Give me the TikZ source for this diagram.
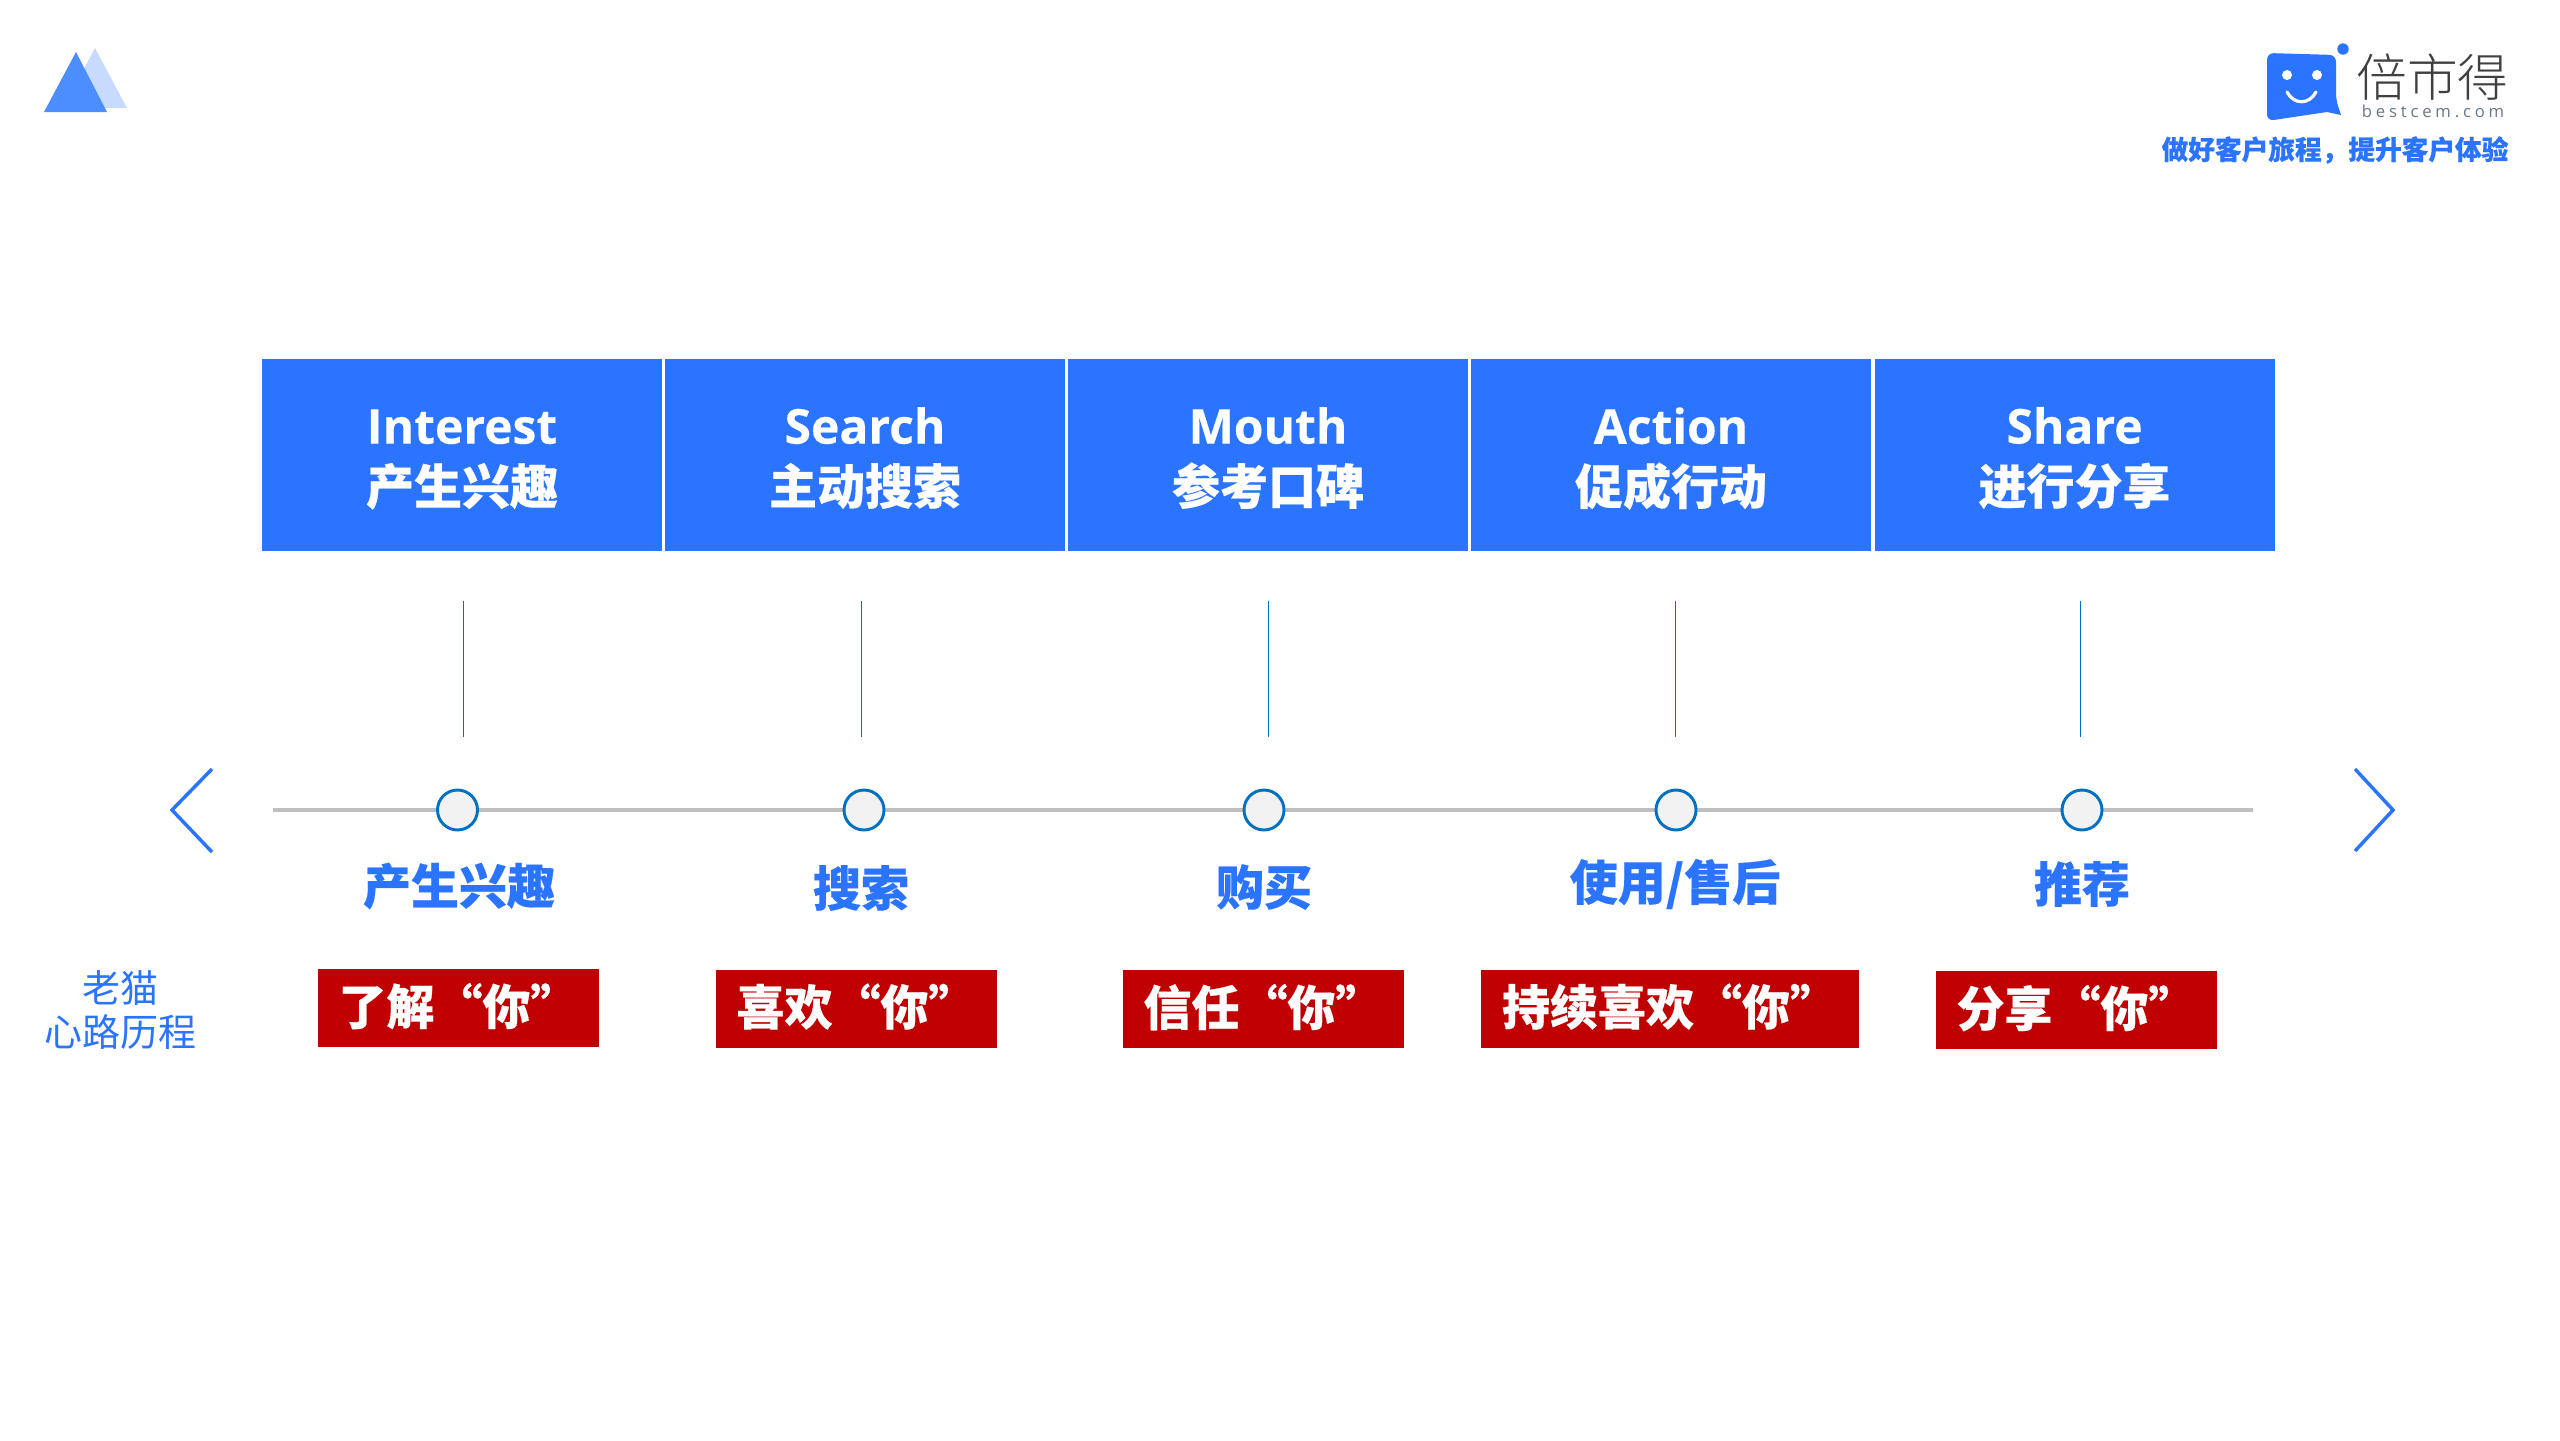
\documentclass[tikz,border=0pt]{standalone}
\usepackage{fontspec}
\setmainfont{Noto Sans CJK SC}[BoldFeatures={FakeBold=0.35}]
\newfontfamily\latinfont{Open Sans}[BoldFeatures={FakeBold=0.25}]
\newfontfamily\urlfont[LetterSpace=23]{Open Sans}
\newfontfamily\brandfont{Noto Sans CJK SC Light}
\definecolor{mainblue}{RGB}{43,116,255}
\definecolor{midblue}{RGB}{77,142,255}
\definecolor{paleblue}{RGB}{199,218,255}
\definecolor{tagred}{RGB}{192,0,0}
\definecolor{railgray}{RGB}{191,191,191}
\definecolor{ringblue}{RGB}{0,112,192}
\definecolor{slategray}{RGB}{107,119,133}
\tikzset{every picture/.style={line width=0.75pt}}
\tikzset{
	stagebox/.style={fill=mainblue,inner sep=0pt,minimum width=300pt,minimum height=144pt},
	stagetext/.style={text=white,inner sep=0pt,align=center,font=\fontsize{36}{45.5}\selectfont\bfseries},
	phasetext/.style={text=mainblue,inner sep=0pt,font=\fontsize{36}{42}\selectfont\bfseries},
	feeltag/.style={fill=tagred,text=white,inner sep=0pt,minimum width=210.75pt,minimum height=58.5pt,text height=32pt,text depth=7.2pt,font=\fontsize{36}{42}\selectfont\bfseries},
	stopmark/.style={circle,draw=ringblue,fill=black!5,line width=2.2pt,inner sep=0pt,minimum size=30pt},
	railline/.style={color=railgray,line width=3pt},
	tickline/.style={color=ringblue,line width=0.6pt},
	chevron/.style={color=mainblue,line width=2.6pt}
}

\begin{document}
\begin{tikzpicture}[x=0.75pt,y=0.75pt,yscale=-1,xscale=1]
	\useasboundingbox (0,0) rectangle (2560,1440);

	%Shape: Triangle
	\fill [paleblue] (63,108) -- (95,48) -- (127,108) -- cycle ;
	%Shape: Triangle
	\fill [midblue] (44,112) -- (76,52) -- (107,112) -- cycle ;

	%Shape: Speech Bubble
	\fill [mainblue,rounded corners=5pt] (2267,53) -- (2336,55) -- (2336,100) [sharp corners] -- (2341,115) -- (2327,112) [rounded corners=5pt] -- (2267,121) -- cycle ;
	\fill [mainblue] (2343,49) circle [radius=5.7] ;
	\fill [white] (2287,75) circle [radius=5] ;
	\fill [white] (2317,75) circle [radius=5] ;
	\draw [white,line width=2.4pt,line cap=round] (2287,92) .. controls (2294,105) and (2309,105) .. (2316,92) ;

	% Text Node
	\node (brand) at (2432.5,77) [inner sep=0pt,text=black!75,font=\fontsize{38}{40}\brandfont] {倍市得};
	% Text Node
	\node (brandurl) at (2433,111) [inner sep=0pt,text=slategray,font=\fontsize{12.5}{14}\urlfont] {bestcem.com};
	% Text Node
	\node (slogan) at (2335,150) [inner sep=0pt,text=mainblue,font=\fontsize{20}{24}\selectfont\bfseries] {做好客户旅程，提升客户体验};

	%Shape: Rectangle
	\node (stageA) at (462,455) [stagebox] {};
	% Text Node
	\node (stageAtext) at (462,459.5) [stagetext] {{\latinfont Interest}\\产生兴趣};
	%Shape: Rectangle
	\node (stageB) at (865,455) [stagebox] {};
	% Text Node
	\node (stageBtext) at (865,458) [stagetext] {{\latinfont Search}\\主动搜索};
	%Shape: Rectangle
	\node (stageC) at (1268,455) [stagebox] {};
	% Text Node
	\node (stageCtext) at (1268,458) [stagetext] {{\latinfont Mouth}\\参考口碑};
	%Shape: Rectangle
	\node (stageD) at (1671,455) [stagebox] {};
	% Text Node
	\node (stageDtext) at (1671,458.5) [stagetext] {{\latinfont Action}\\促成行动};
	%Shape: Rectangle
	\node (stageE) at (2074.5,455) [stagebox] {};
	% Text Node
	\node (stageEtext) at (2074.5,458) [stagetext] {{\latinfont Share}\\进行分享};

	%Straight Lines
	\coordinate (tickAtop) at (463,601) ;
	\coordinate (tickAend) at (463,737) ;
	\draw [tickline] (tickAtop) -- (tickAend) ;
	%Straight Lines
	\coordinate (tickBtop) at (861,601) ;
	\coordinate (tickBend) at (861,737) ;
	\draw [tickline] (tickBtop) -- (tickBend) ;
	%Straight Lines
	\coordinate (tickCtop) at (1268,601) ;
	\coordinate (tickCend) at (1268,737) ;
	\draw [tickline] (tickCtop) -- (tickCend) ;
	%Straight Lines
	\coordinate (tickDtop) at (1675,601) ;
	\coordinate (tickDend) at (1675,737) ;
	\draw [tickline] (tickDtop) -- (tickDend) ;
	%Straight Lines
	\coordinate (tickEtop) at (2080,601) ;
	\coordinate (tickEend) at (2080,737) ;
	\draw [tickline] (tickEtop) -- (tickEend) ;

	%Straight Lines
	\coordinate (railstart) at (273,810) ;
	\coordinate (railend) at (2253,810) ;
	\draw [railline] (railstart) -- (railend) ;

	%Shape: Circle
	\node (stopA) at (457.5,810) [stopmark] {};
	%Shape: Circle
	\node (stopB) at (864,810) [stopmark] {};
	%Shape: Circle
	\node (stopC) at (1264,810) [stopmark] {};
	%Shape: Circle
	\node (stopD) at (1676,810) [stopmark] {};
	%Shape: Circle
	\node (stopE) at (2082,810) [stopmark] {};

	%Straight Lines
	\draw [chevron] (212,769) -- (172,810) -- (212,852) ;
	%Straight Lines
	\draw [chevron] (2355,769) -- (2393,810) -- (2355,851) ;

	% Text Node
	\node (phaseA) at (459,886) [phasetext] {产生兴趣};
	% Text Node
	\node (phaseB) at (861,888) [phasetext] {搜索};
	% Text Node
	\node (phaseC) at (1264,887) [phasetext] {购买};
	% Text Node
	\node (phaseD) at (1675,884) [phasetext] {使用/售后};
	% Text Node
	\node (phaseE) at (2082,884) [phasetext] {推荐};

	% Text Node
	\node (journey) at (120,1010) [inner sep=0pt,text=mainblue,align=center,font=\fontsize{28.5}{33}\selectfont] {老猫\\心路历程};

	% Text Node
	\node (feelA) at (458.5,1008) [feeltag] {了解“你”};
	% Text Node
	\node (feelB) at (856.5,1008.5) [feeltag] {喜欢“你”};
	% Text Node
	\node (feelC) at (1263.5,1009) [feeltag] {信任“你”};
	% Text Node
	\node (feelD) at (1670,1008.5) [feeltag,minimum width=283.5pt] {持续喜欢“你”};
	% Text Node
	\node (feelE) at (2076.5,1010) [feeltag] {分享“你”};

\end{tikzpicture}
\end{document}
